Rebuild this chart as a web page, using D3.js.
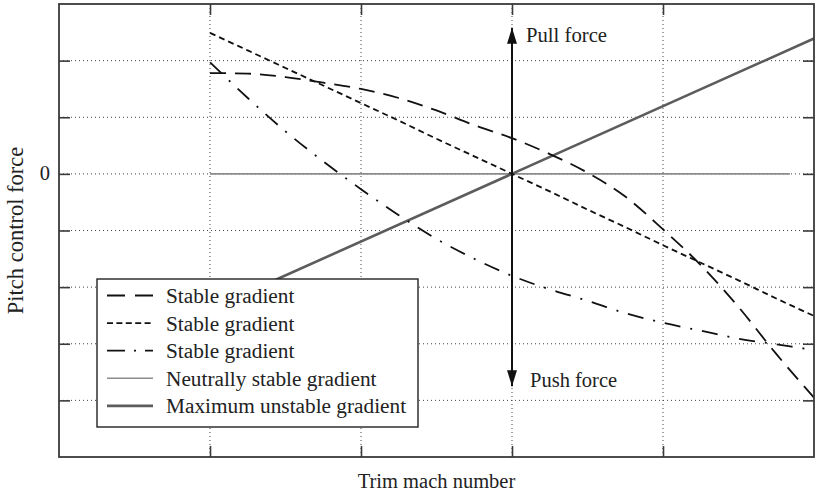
<!DOCTYPE html>
<html>
<head>
<meta charset="utf-8">
<script src="https://cdn.jsdelivr.net/npm/d3@7"></script>
<style>
  html, body { margin: 0; padding: 0; background: #fff; }
  svg { display: block; font-family: "Liberation Serif", "DejaVu Serif", serif; }
</style>
</head>
<body>
<svg id="chart" width="818" height="496"></svg>
<script>
// Trim mach number samples shared by the three stable curves
const trimMach = [1, 1.25, 1.5, 1.75, 2, 2.25, 2.5, 2.75, 3, 3.25, 3.5, 3.75, 4, 4.25, 4.5, 4.75, 5];

// Pitch control force for each stable gradient
const stableDashed = [1.78, 1.77, 1.71, 1.61, 1.50, 1.34, 1.12, 0.86, 0.63, 0.35, 0.02, -0.40, -0.98, -1.61, -2.35, -3.18, -3.95];
const stableShortDashed = [2.49, 2.18, 1.87, 1.56, 1.25, 0.94, 0.62, 0.31, 0, -0.31, -0.63, -0.94, -1.26, -1.57, -1.88, -2.20, -2.51];
const stableDashDot = [1.97, 1.34, 0.75, 0.22, -0.27, -0.73, -1.15, -1.50, -1.80, -2.04, -2.24, -2.46, -2.63, -2.77, -2.91, -3.01, -3.11];

// Neutrally stable and maximum unstable gradients
const neutralMach = [1, 4.84];
const neutralForce = [0, 0];
const unstableMach = [1, 5];
const unstableForce = [-2.39, 2.39];

// Pull / push force arrow ends
const arrowMach = 3;
const pullForceEnd = 2.58;
const pushForceEnd = -3.75;

// Axis ticks
const machTicks = [1, 2, 3, 4];
const forceTicks = [-4, -3, -2, -1, 0, 1, 2];
const forceTickLabels = { 0: "0" };

const legendLabels = ["Stable gradient", "Stable gradient", "Stable gradient",
  "Neutrally stable gradient", "Maximum unstable gradient"];

const svg = d3.select("#chart");
const plotLeft = 59, plotRight = 814, plotTop = 4, plotBottom = 457;

const x = d3.scaleLinear().domain([0, 5]).range([plotLeft, plotRight]);
const y = d3.scaleLinear().domain([-5, 3]).range([plotBottom, plotTop]);

const frameColor = "#3a3a3a";

// grid
const grid = svg.append("g");
grid.selectAll("line.v").data(machTicks).join("line")
  .attr("x1", d => x(d)).attr("x2", d => x(d))
  .attr("y1", plotTop).attr("y2", plotBottom)
  .attr("stroke", "#444").attr("stroke-width", 1)
  .attr("stroke-dasharray", "1,3");
grid.selectAll("line.h").data(forceTicks).join("line")
  .attr("x1", plotLeft).attr("x2", plotRight)
  .attr("y1", d => y(d)).attr("y2", d => y(d))
  .attr("stroke", "#444").attr("stroke-width", 1)
  .attr("stroke-dasharray", "1,3");

// axes with inward ticks on all four sides
const tickLen = 11;
function noDomain(g) { g.select(".domain").remove(); g.selectAll("text").remove(); }
svg.append("g").attr("transform", `translate(0,${plotBottom})`)
  .call(d3.axisBottom(x).tickValues(machTicks).tickSize(-tickLen)).call(noDomain);
svg.append("g").attr("transform", `translate(0,${plotTop})`)
  .call(d3.axisTop(x).tickValues(machTicks).tickSize(-tickLen)).call(noDomain);
svg.append("g").attr("transform", `translate(${plotLeft},0)`)
  .call(d3.axisLeft(y).tickValues(forceTicks).tickSize(-tickLen)).call(noDomain);
svg.append("g").attr("transform", `translate(${plotRight},0)`)
  .call(d3.axisRight(y).tickValues(forceTicks).tickSize(-tickLen)).call(noDomain);
svg.selectAll(".tick line").attr("stroke", frameColor).attr("stroke-width", 1.6);

// y tick label(s)
svg.append("g").selectAll("text").data(forceTicks.filter(d => forceTickLabels[d] !== undefined)).join("text")
  .attr("x", plotLeft - 9).attr("y", d => y(d) + 6.5)
  .attr("text-anchor", "end").attr("font-size", 20.5).attr("fill", "#222")
  .text(d => forceTickLabels[d]);

const line = d3.line().x(d => x(d[0])).y(d => y(d[1]));
const smooth = d3.line().x(d => x(d[0])).y(d => y(d[1])).curve(d3.curveMonotoneX);

const series = [
  { xs: neutralMach, ys: neutralForce, color: "#8c8c8c", width: 1.6, dash: null, gen: line },
  { xs: unstableMach, ys: unstableForce, color: "#5c5c5c", width: 2.6, dash: null, gen: line },
  { xs: trimMach, ys: stableShortDashed, color: "#111", width: 1.8, dash: "6,4", gen: smooth },
  { xs: trimMach, ys: stableDashDot, color: "#111", width: 1.8, dash: "16,10,2,10", gen: smooth },
  { xs: trimMach, ys: stableDashed, color: "#111", width: 1.8, dash: "16,9", gen: smooth }
];
series.forEach(s => {
  svg.append("path")
    .datum(s.xs.map((v, i) => [v, s.ys[i]]))
    .attr("d", s.gen)
    .attr("fill", "none")
    .attr("stroke", s.color)
    .attr("stroke-width", s.width)
    .attr("stroke-dasharray", s.dash);
});

// pull / push arrow
const defs = svg.append("defs");
defs.append("marker").attr("id", "head")
  .attr("viewBox", "0 0 16 10").attr("refX", 16).attr("refY", 5)
  .attr("markerWidth", 16).attr("markerHeight", 10)
  .attr("markerUnits", "userSpaceOnUse").attr("orient", "auto-start-reverse")
  .append("path").attr("d", "M0,0 L16,5 L0,10 Z").attr("fill", "#111");
svg.append("line")
  .attr("x1", x(arrowMach)).attr("x2", x(arrowMach))
  .attr("y1", y(pullForceEnd)).attr("y2", y(pushForceEnd))
  .attr("stroke", "#111").attr("stroke-width", 2)
  .attr("marker-start", "url(#head)").attr("marker-end", "url(#head)");
svg.append("text").attr("x", x(arrowMach) + 14).attr("y", y(pullForceEnd) + 14)
  .attr("font-size", 20.7).attr("fill", "#222").text("Pull force");
svg.append("text").attr("x", x(arrowMach) + 18).attr("y", y(pushForceEnd) + 1)
  .attr("font-size", 20.5).attr("fill", "#222").text("Push force");

// frame
svg.append("rect").attr("x", plotLeft).attr("y", plotTop)
  .attr("width", plotRight - plotLeft).attr("height", plotBottom - plotTop)
  .attr("fill", "none").attr("stroke", frameColor).attr("stroke-width", 1.8);

// legend
const lg = svg.append("g");
lg.append("rect").attr("x", 97).attr("y", 279).attr("width", 321).attr("height", 148)
  .attr("fill", "#fff").attr("stroke", "#222").attr("stroke-width", 1.4);
const legendStyles = [series[4], series[2], series[3], series[0], series[1]];
const legendDash = ["18,10", "6,3.4", "18,9,2,9", null, null];
legendLabels.forEach((lab, i) => {
  const cy = 295.5 + i * 27.6;
  const s = legendStyles[i];
  lg.append("line").attr("x1", 107).attr("x2", 153).attr("y1", cy).attr("y2", cy)
    .attr("stroke", s.color).attr("stroke-width", s.width)
    .attr("stroke-dasharray", legendDash[i]);
  lg.append("text").attr("x", 166).attr("y", cy + 7.5)
    .attr("font-size", 21.3).attr("fill", "#222").text(lab);
});

// axis titles
svg.append("text").attr("x", (plotLeft + plotRight) / 2).attr("y", 488)
  .attr("text-anchor", "middle").attr("font-size", 20.5).attr("fill", "#222")
  .text("Trim mach number");
svg.append("text").attr("transform", `translate(23,${(plotTop + plotBottom) / 2}) rotate(-90)`)
  .attr("text-anchor", "middle").attr("font-size", 22.5).attr("fill", "#222")
  .text("Pitch control force");
</script>
</body>
</html>
